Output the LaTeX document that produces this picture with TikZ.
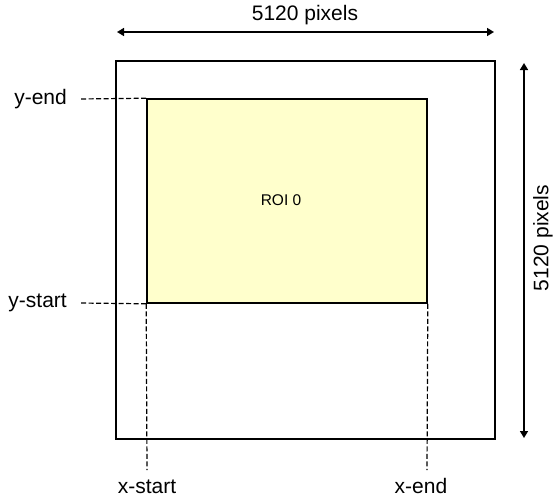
\documentclass[tikz,border=0pt]{standalone}
\usepackage{fontspec}
\setmainfont{Liberation Sans}
\usetikzlibrary{arrows.meta}
\definecolor{roiyellow}{HTML}{FFFFCC}
\begin{document}
\begin{tikzpicture}[x=1pt,y=-1pt,
  lbl/.style={font=\fontsize{21}{24}\selectfont, inner sep=0pt},
  frame/.style={draw=black, line width=1.6pt, inner sep=0pt},
  guide/.style={draw=black, line width=1.2pt, dash pattern=on 5pt off 2.5pt},
  dim/.style={draw=black, line width=1.6pt, {Triangle[length=7pt,width=8pt]}-{Triangle[length=7pt,width=8pt]}}]
\useasboundingbox (0,0) rectangle (553,498);
\node[frame, minimum width=379pt, minimum height=378pt] (outer) at (305.5,250) {};
\node[frame, fill=roiyellow, minimum width=280pt, minimum height=204pt] (roi) at (287,201) {};
\node[font=\fontsize{15.5}{18}\selectfont, inner sep=0pt] (roilbl) at (281,200) {ROI 0};
% guide lines
\coordinate (yeL) at (80,99);
\coordinate (ysL) at (80,303);
\coordinate (xsB) at (147,470);
\coordinate (xeB) at (427,470);
\draw[guide] (roi.north west) -- (yeL);
\draw[guide] (roi.south west) -- (ysL);
\draw[guide] (roi.south west) -- (xsB);
\draw[guide] (roi.south east) -- (xeB);
\node[lbl, anchor=east] (yend) at (67,99) {y-end};
\node[lbl, anchor=east] (ystart) at (67,303) {y-start};
\node[lbl, anchor=base] (xstart) at (147,493.5) {x-start};
\node[lbl, anchor=base] (xend) at (421,493.5) {x-end};
% dimension arrows
\coordinate (tl) at (117,32);
\coordinate (tr) at (494,32);
\coordinate (rt) at (524,63);
\coordinate (rb) at (524,438);
\draw[dim] (tl) -- (tr);
\draw[dim] (rt) -- (rb);
\node[lbl] (wlbl) at (305,15) {5120 pixels};
\node[lbl, rotate=90] (hlbl) at (543,238) {5120 pixels};
\end{tikzpicture}
\end{document}
